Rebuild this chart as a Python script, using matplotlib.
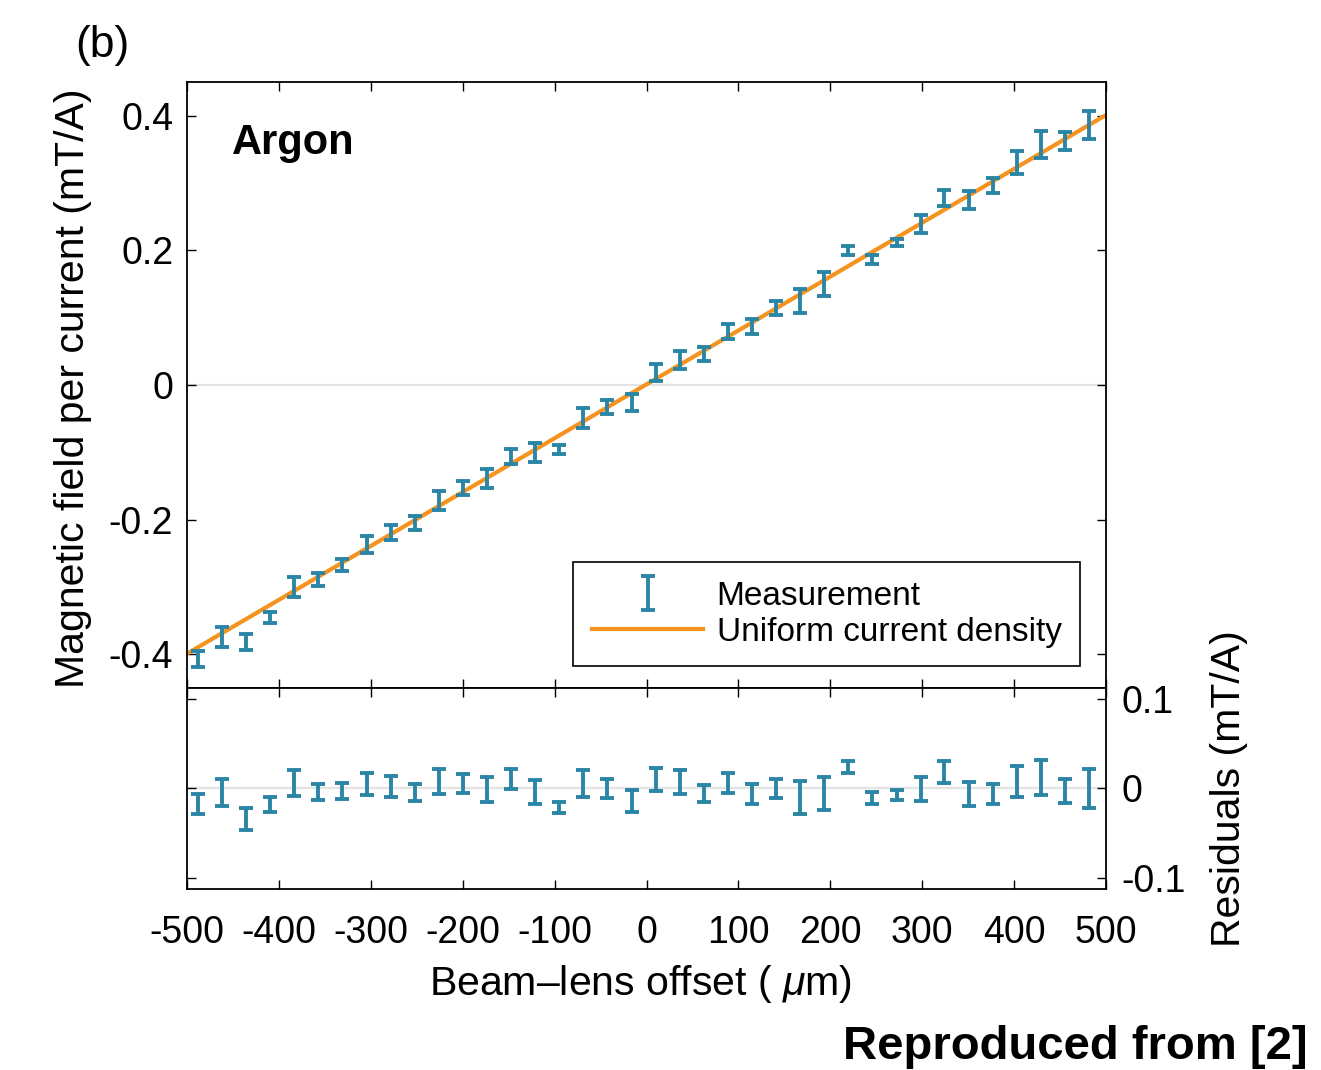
import numpy as np
import matplotlib.pyplot as plt

plt.rcParams['font.family'] = ['Liberation Sans', 'DejaVu Sans']
plt.rcParams['axes.unicode_minus'] = False
plt.rcParams['mathtext.fontset'] = 'custom'
plt.rcParams['mathtext.rm'] = 'Liberation Sans'
plt.rcParams['mathtext.it'] = 'Liberation Sans:italic'

# beam-lens offset (um)
offset = [-488, -462, -436, -410, -384, -357, -331, -304, -278, -252,
          -226, -200, -174, -147, -121, -95, -69, -43, -16, 10,
          36, 63, 89, 115, 141, 167, 193, 219, 245, 273,
          299, 324, 351, 377, 403, 429, 455, 481]

# magnetic field per current (mT/A)
field = [-0.407, -0.374, -0.382, -0.345, -0.300, -0.289, -0.267, -0.237, -0.219, -0.205,
         -0.172, -0.153, -0.139, -0.106, -0.100, -0.096, -0.049, -0.033, -0.026, 0.019,
         0.037, 0.046, 0.079, 0.087, 0.114, 0.125, 0.150, 0.200, 0.186, 0.212,
         0.239, 0.278, 0.275, 0.296, 0.331, 0.357, 0.362, 0.386]

# residuals to the fit (mT/A)
resid = [-0.0175, -0.005, -0.034, -0.018, 0.006, -0.004, -0.003, 0.005, 0.002, -0.0045,
         0.0076, 0.0057, -0.001, 0.0104, -0.004, -0.021, 0.0056, 0.0, -0.014, 0.0098,
         0.0067, -0.0056, 0.0063, -0.0058, 0.0, -0.010, -0.0055, 0.024, -0.011, -0.007,
         -0.001, 0.018, -0.0064, -0.0064, 0.0076, 0.0123, -0.0027, 0.0]

# one-sigma uncertainties (mT/A)
err = [0.0115, 0.015, 0.012, 0.008, 0.0147, 0.0093, 0.0087, 0.0123, 0.0115, 0.0097,
       0.0143, 0.0106, 0.0138, 0.0115, 0.0138, 0.0063, 0.0153, 0.0106, 0.0123, 0.0128,
       0.0134, 0.0097, 0.0112, 0.011, 0.0106, 0.018, 0.018, 0.0065, 0.0069, 0.0054,
       0.0134, 0.0123, 0.0134, 0.0115, 0.017, 0.0197, 0.0134, 0.0214]

# uniform current density model (straight line)
fit_x = [-500, 500]
fit_y = [-0.399, 0.401]

blue = '#2b86a6'
orange = '#f6921e'

fig = plt.figure(figsize=(13.21, 10.70), dpi=100)
ax = fig.add_axes([0.1416, 0.357, 0.6957, 0.5664])
axr = fig.add_axes([0.1416, 0.1692, 0.6957, 0.1879], sharex=ax)

## main panel
ax.axhline(0, color='#e3e3e3', lw=1.6, zorder=0)
line, = ax.plot(fit_x, fit_y, color=orange, lw=3, zorder=2)
eb = ax.errorbar(offset, field, yerr=err, fmt='none', ecolor=blue,
                 elinewidth=2.8, capsize=5, capthick=2.8, zorder=3)

ax.set_xlim(-500, 500)
ax.set_ylim(-0.45, 0.45)
ax.set_yticks([-0.4, -0.2, 0, 0.2, 0.4])
ax.set_yticklabels(['-0.4', '-0.2', '0', '0.2', '0.4'])
ax.set_xticks(np.arange(-500, 501, 100))
ax.tick_params(direction='in', length=6.5, width=1, top=True, right=True,
               labelsize=27, pad=10, labelbottom=False)
ax.set_ylabel('Magnetic field per current (mT/A)', fontsize=29.5)
ax.yaxis.set_label_coords(-0.103, 0.495)

ax.text(0.049, 0.899, 'Argon', transform=ax.transAxes, fontsize=30,
        fontweight='bold', ha='left', va='center')

leg = ax.legend([eb, line], ['Measurement', 'Uniform current density'],
                loc='lower right', bbox_to_anchor=(0.9717, 0.0363),
                fontsize=24, fancybox=False, framealpha=1, edgecolor='k',
                handlelength=3.35, handletextpad=0.4, borderpad=0.55,
                labelspacing=0.15, borderaxespad=0)
leg.get_frame().set_linewidth(1.2)

## residual panel
axr.axhline(0, color='#e3e3e3', lw=1.6, zorder=0)
axr.errorbar(offset, resid, yerr=err, fmt='none', ecolor=blue,
             elinewidth=2.8, capsize=5, capthick=2.8, zorder=3)
axr.set_ylim(-0.112, 0.112)
axr.set_yticks([-0.1, 0, 0.1])
axr.set_yticklabels(['-0.1', '0', '0.1'])
axr.set_xticks(np.arange(-500, 501, 100))
axr.set_xticklabels([str(v) for v in range(-500, 501, 100)])
axr.tick_params(direction='in', length=6.5, width=1, top=True, right=True,
                left=True, labelleft=False, labelright=True, labelsize=27)
axr.tick_params(axis='x', pad=19)
axr.tick_params(axis='y', pad=11)
axr.yaxis.set_label_position('right')
axr.set_ylabel('Residuals (mT/A)', fontsize=29.5)
axr.yaxis.set_label_coords(1.113, 0.5)
axr.set_xlabel('Beam\u2013lens offset ( $\\mu$m)', fontsize=29.5)
axr.xaxis.set_label_coords(0.493, -0.37)

for a in (ax, axr):
    for s in a.spines.values():
        s.set_linewidth(1.3)

fig.text(75 / 1321, 1 - 45 / 1070, '(b)', fontsize=32, ha='left', va='center')
fig.text(1308 / 1321, 1 - 1047 / 1070, 'Reproduced from [2]', fontsize=34,
         fontweight='bold', ha='right', va='center')

plt.savefig('out.png', dpi=100)
plt.close(fig)
